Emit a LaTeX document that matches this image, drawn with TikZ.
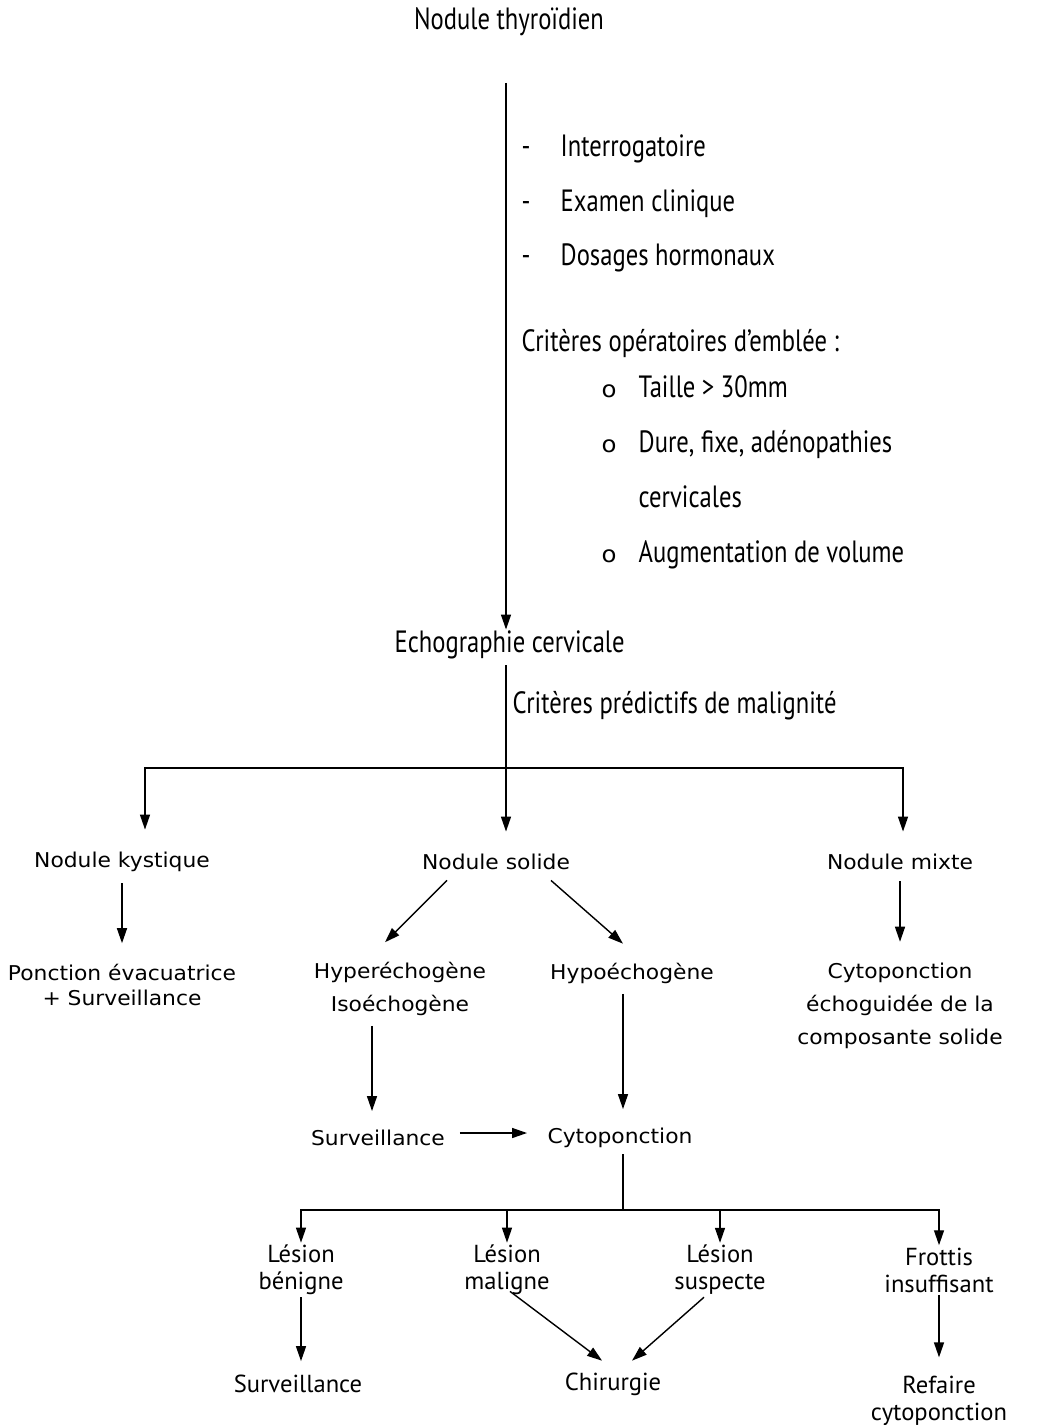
\documentclass[tikz,border=0pt]{standalone}
\usepackage{fontspec}
\setmainfont[FakeStretch=1.07]{DejaVu Sans}
\newfontfamily\narrowfont[FakeStretch=0.8]{PT Sans}
\newfontfamily\lowfont[FakeStretch=1.0]{PT Sans}
\usetikzlibrary{arrows.meta,positioning,calc}

\begin{document}
\begin{tikzpicture}[line width=0.8pt, >={Triangle[length=0.3cm,width=0.2cm]},
  condtext/.style={font=\narrowfont\fontsize{17.5}{20}\selectfont},
  listtext/.style={condtext, anchor=base west, inner sep=0pt},
  sanstext/.style={font=\fontsize{11.6}{18.7}\selectfont, align=center},
  lowtext/.style={font=\lowfont\fontsize{14}{15.3}\selectfont, align=center, inner sep=1pt}]
  \useasboundingbox (0,0) rectangle (20.92,-28.56);
  % top of the chart
  \node[condtext] (thy) at (10.18,-0.44) {Nodule thyroïdien};
  \foreach \y/\lab [count=\i] in {-3.14/Interrogatoire, -4.24/Examen clinique, -5.32/Dosages hormonaux} {
    \node[listtext] (dash\i) at (10.42,\y) {-};
    \node[listtext] (item\i) at (11.2,\y) {\lab};
  }
  \node[listtext] (crit) at (10.42,-7.04) {Critères opératoires d’emblée :};
  \foreach \y/\lab [count=\i] in {-7.94/Taille > 30mm, -9.04/{Dure, fixe, adénopathies}, -11.24/Augmentation de volume} {
    \node[listtext, font=\fontsize{13}{15}\selectfont] (circ\i) at (12.02,\y) {o};
    \node[listtext] (crit\i) at (12.76,\y) {\lab};
  }
  \node[listtext] (cerv) at (12.76,-10.14) {cervicales};
  \node[listtext] (echo) at (7.88,-13.04) {Echographie cervicale};
  \node[listtext] (pred) at (10.24,-14.26) {Critères prédictifs de malignité};
  % echography results
  \node[sanstext] (kyst) at (2.44,-17.24) {Nodule kystique};
  \node[sanstext] (solide) at (9.92,-17.24) {Nodule solide};
  \node[sanstext] (mixte) at (18.0,-17.24) {Nodule mixte};
  \node[sanstext, font=\fontsize{11.6}{14.7}\selectfont] (ponc) at (2.44,-19.7) {Ponction évacuatrice\\+ Surveillance};
  \node[sanstext] (hyper) at (8.0,-19.78) {Hyperéchogène\\Isoéchogène};
  \node[sanstext] (hypo) at (12.64,-19.46) {Hypoéchogène};
  \node[sanstext] (cytomix) at (18.0,-20.12) {Cytoponction\\échoguidée de la\\composante solide};
  \node[sanstext] (surv) at (7.56,-22.76) {Surveillance};
  \node[sanstext] (cyto) at (12.4,-22.76) {Cytoponction};
  % cytology results
  \node[lowtext] (benin) at (6.02,-25.4) {Lésion\\bénigne};
  \node[lowtext] (malin) at (10.14,-25.4) {Lésion\\maligne};
  \node[lowtext] (susp) at (14.4,-25.4) {Lésion\\suspecte};
  \node[lowtext] (frot) at (18.78,-25.4) {Frottis\\insuffisant};
  \node[lowtext] (survb) at (5.96,-27.68) {Surveillance};
  \node[lowtext] (chir) at (12.26,-27.68) {Chirurgie};
  \node[lowtext] (refaire) at (18.78,-28.02) {Refaire\\cytoponction};
  \coordinate (split1) at (10.12,-15.36);
  \coordinate (split2) at (12.46,-24.2);
  % arrows
  \draw[->] (10.12,-1.66) coordinate (stem) -- (stem |- echo.north);
  \draw[->, shorten <=0.12cm, shorten >=0.32cm] (stem |- echo.south) -- (stem |- solide.north);
  \draw[->, shorten >=0.32cm] (split1) -| ([xshift=0.46cm]kyst.north);
  \draw[->, shorten >=0.32cm] (split1) -| ([xshift=0.06cm]mixte.north);
  \draw[->, shorten <=0.1cm, shorten >=0.28cm] (kyst) -- (ponc);
  \draw[->] ([xshift=-0.98cm,yshift=-0.08cm]solide.south) -- ([xshift=-0.3cm,yshift=0.27cm]hyper.north);
  \draw[->] ([xshift=1.1cm,yshift=-0.08cm]solide.south) -- ([xshift=-0.18cm,yshift=0.25cm]hypo.north);
  \draw[->, shorten <=0.1cm, shorten >=0.3cm] (mixte) -- (cytomix);
  \draw[->, shorten <=0.07cm, shorten >=0.25cm] ([xshift=-0.56cm]hyper.south) -- ([xshift=-0.56cm]hyper.south |- surv.north);
  \draw[->, shorten <=0.08cm, shorten >=0.25cm] ([xshift=-0.18cm]hypo.south) -- ([xshift=-0.18cm]hypo.south |- cyto.north);
  \draw[->, shorten <=0.17cm, shorten >=0.28cm] ([yshift=0.1cm]surv.east) -- ([yshift=0.1cm]surv.east -| cyto.west);
  \draw (split2 |- cyto.south) -- (split2);
  \foreach \n in {benin, malin, susp, frot}
    \draw[->] (split2) -| (\n.north);
  \draw[->, shorten >=0.23cm] (benin) -- (benin |- survb.north);
  \draw[->] ([xshift=0.06cm,yshift=0.12cm]malin.south) -- ([xshift=-0.22cm,yshift=0.19cm]chir.north);
  \draw[->] ([xshift=-0.32cm]susp.south) -- ([xshift=0.38cm,yshift=0.19cm]chir.north);
  \draw[->, shorten >=0.33cm] (frot) -- (refaire);
\end{tikzpicture}
\end{document}
